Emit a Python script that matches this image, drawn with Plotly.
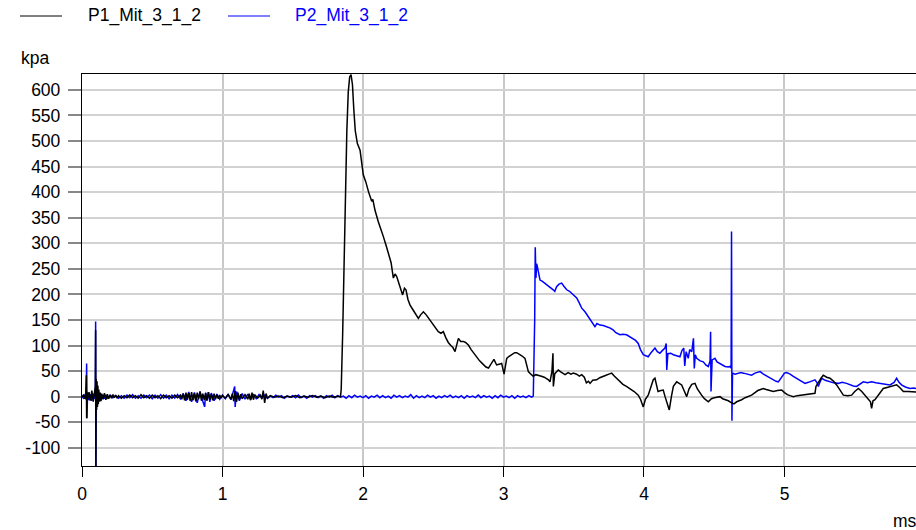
import plotly.graph_objects as go

# ---- data (time in ms, pressure in kPa) ----
p1_ms = [0, 0.01, 0.02, 0.027, 0.031, 0.033, 0.035, 0.04, 0.05, 0.06, 0.07, 0.08, 0.09, 0.095, 0.097, 0.099,
         0.101, 0.104, 0.107, 0.11, 0.113, 0.116, 0.12, 0.125, 0.13, 0.135, 0.14, 0.15, 0.16, 0.17, 0.18, 0.19,
         0.2, 0.21, 0.22, 0.23, 0.24, 0.25, 0.26, 0.28, 0.30, 0.32, 0.34, 0.36, 0.38, 0.40, 0.42, 0.44, 0.46,
         0.48, 0.50, 0.52, 0.54, 0.56, 0.58, 0.60, 0.62, 0.64, 0.66, 0.68, 0.70,
         0.71, 0.72, 0.73, 0.74, 0.75, 0.76, 0.77, 0.78, 0.79, 0.80, 0.81, 0.82, 0.83, 0.84, 0.85, 0.86, 0.87,
         0.88, 0.89, 0.90, 0.91, 0.92, 0.93, 0.94, 0.95, 0.96, 0.97, 0.98, 0.99, 1.00,
         1.02, 1.04, 1.06, 1.07, 1.08, 1.09, 1.10, 1.11, 1.12, 1.13, 1.14, 1.16, 1.18, 1.19, 1.20, 1.21, 1.22,
         1.23, 1.25, 1.27, 1.28, 1.29, 1.30, 1.31, 1.32, 1.34,
         1.37, 1.40, 1.43, 1.46, 1.49, 1.52, 1.55, 1.58, 1.61, 1.64, 1.67, 1.70, 1.73, 1.76, 1.79, 1.82, 1.84,
         1.845, 1.855, 1.865, 1.875, 1.885, 1.895, 1.905, 1.915, 1.925, 1.935, 1.945, 1.96, 1.979, 2.002, 2.02,
         2.04, 2.062, 2.07, 2.085, 2.109, 2.125, 2.145, 2.165, 2.188, 2.2, 2.216, 2.228, 2.24, 2.26, 2.282,
         2.295, 2.306, 2.32, 2.335, 2.36, 2.38, 2.394, 2.41, 2.43, 2.45, 2.477, 2.5, 2.52, 2.536, 2.555, 2.572,
         2.59, 2.607, 2.625, 2.64, 2.655, 2.665, 2.679, 2.695, 2.714, 2.73, 2.75, 2.77, 2.79, 2.809, 2.83,
         2.845, 2.857, 2.875, 2.893, 2.91, 2.932, 2.951, 2.97, 2.987, 3.004, 3.015, 3.023, 3.04, 3.06, 3.08,
         3.094, 3.11, 3.13, 3.153, 3.165, 3.177, 3.195, 3.212, 3.23, 3.248, 3.27, 3.29, 3.307, 3.32, 3.331,
         3.345, 3.352, 3.355, 3.365, 3.39, 3.41, 3.438, 3.46, 3.48, 3.497, 3.52, 3.54, 3.557, 3.575, 3.59,
         3.605, 3.616, 3.635, 3.663, 3.685, 3.71, 3.73, 3.75, 3.77, 3.79, 3.81, 3.829, 3.85, 3.875, 3.9, 3.93,
         3.959, 3.975, 3.995, 4.01, 4.03, 4.05, 4.066, 4.078, 4.09, 4.10, 4.12, 4.137, 4.15, 4.165, 4.18, 4.195,
         4.209, 4.233, 4.25, 4.268, 4.285, 4.304, 4.32, 4.34, 4.363, 4.38, 4.41, 4.43, 4.458, 4.48, 4.50, 4.541,
         4.56, 4.58, 4.6, 4.624, 4.64, 4.66, 4.68, 4.695, 4.72, 4.74, 4.766, 4.79, 4.81, 4.83, 4.849, 4.87, 4.9,
         4.92, 4.95, 4.98, 5.0, 5.02, 5.04, 5.063, 5.09, 5.12, 5.146, 5.17, 5.2, 5.217, 5.224, 5.24, 5.26, 5.276,
         5.30, 5.324, 5.35, 5.371, 5.39, 5.41, 5.419, 5.45, 5.478, 5.5, 5.526, 5.55, 5.57, 5.585, 5.6, 5.612,
         5.62, 5.63, 5.644, 5.67, 5.703, 5.73, 5.76, 5.798, 5.82, 5.846, 5.88, 5.917, 5.95]
p1_kpa = [0, 3, -4, 8, 42, -42, 10, -6, 9, -8, 12, -10, 6, 20, 130, -137,
          35, -26, 30, -20, 22, -15, 14, -10, 8, -9, 6, -5, 7, -6, 5, -4,
          3, -3, 4, -2, 3, -3, 2, -3, 2, -2, 3, -2, 2, -3, 4, -2, 2,
          -3, 3, -2, 2, -4, 3, -2, 2, -3, 3, -2, 3,
          -5, 6, -7, 8, -6, 7, -8, 9, -7, 6, -9, 8, -5, 10, -8, 6, -6,
          7, -8, 9, -6, 5, -7, 6, -5, 4, -4, 3, -3, 2,
          -3, 4, -5, 6, -9, 11, -10, 8, -6, 5, -4, 4, -5, 6, -7, 8, -6,
          4, -3, 3, -5, 12, -12, 6, -3, 2,
          -1, 1, -2, 1, -1, 2, -2, 1, -1, 2, -1, 1, -2, 1, -1, 1, 0,
          15, 120, 260, 400, 520, 595, 625, 630, 610, 560, 520, 495, 482, 434, 420,
          400, 382, 386, 365, 342, 330, 313, 295, 274, 262, 232, 240, 235, 218, 199,
          212, 209, 190, 179, 168, 158, 153, 160, 166, 160, 150, 140, 132, 127, 124, 127,
          115, 106, 100, 96, 88, 100, 114, 108, 108, 106, 101, 92, 84, 78, 70,
          66, 62, 58, 56, 63, 73, 62, 64, 65, 44, 62, 75, 79, 82, 86,
          86, 84, 80, 75, 60, 49, 44, 40, 43, 42, 40, 38, 36, 33, 29,
          50, 85, 20, 45, 52, 48, 43, 47, 44, 46, 44, 40, 43, 38, 27,
          30, 26, 32, 33, 37, 39, 42, 44, 46, 40, 34, 29, 24, 20, 16, 10,
          3, -5, -20, -5, 3, 18, 33, 36, 20, 10, 12, 13, 0, -15, -26, 0,
          20, 29, 26, 23, 12, 0, 15, 24, 26, 15, 3, -4, -10, -4, -2, 0,
          -4, -6, -8, -12, -14, -10, -8, -6, -2, 0, 3, 8, 12, 14, 16, 14, 12,
          10, 12, 13, 8, 4, 2, 0, 2, 3, 3, 5, 6, 6.5, 20, 28, 36, 42,
          38, 36, 30, 23, 14, 6, 3, 2, 3, 10, 16, 10, 4, 0, -6, -10,
          -23, -8, -6, 4, 16, 18, 20, 23, 18, 10, 10, 10, 9]

# P2: early noisy part
p2_ms_early = [0, 0.01, 0.02, 0.027, 0.031, 0.033, 0.035, 0.04, 0.05, 0.06, 0.07, 0.08, 0.09, 0.095, 0.097, 0.099,
               0.101, 0.104, 0.107, 0.11, 0.115, 0.12, 0.13, 0.14, 0.15, 0.16, 0.17, 0.18, 0.2, 0.22, 0.24, 0.26,
               0.28, 0.30, 0.32, 0.34, 0.36, 0.38, 0.40, 0.42, 0.44, 0.46, 0.48, 0.50, 0.52, 0.54, 0.56, 0.58, 0.60,
               0.62, 0.64, 0.66, 0.68, 0.70, 0.72, 0.74, 0.76, 0.78, 0.80, 0.82, 0.84, 0.86, 0.873, 0.88, 0.89, 0.90,
               0.91, 0.92, 0.94, 0.96, 0.98, 1.0, 1.02, 1.04, 1.06, 1.075, 1.087, 1.09, 1.10, 1.12, 1.14, 1.16, 1.18,
               1.20, 1.22, 1.24, 1.26, 1.28, 1.30, 1.32]
p2_kpa_early = [0, -3, 4, -5, 20, 65, -42, 8, -7, 5, -8, 6, -4, 10, 147, -137,
                20, -18, 15, -12, 10, -8, 6, -5, 4, -4, 3, -3, 3, -2, 2, -3,
                2, -3, 3, -2, 4, -3, 2, -3, 3, -2, 3, -4, 3, -3, 4, -3, 3,
                -4, 3, -3, 4, -4, 6, -8, 9, -10, 8, -12, 10, -9, -20, 8, -7, 9,
                -10, 7, -8, 5, -5, 3, -4, 5, -6, 8, 20, -20, 10, -8, 6, -5, 5,
                -6, 5, -4, 4, -3, 3, -3]
# P2: quiet baseline before the arrival
p2_ms_base = [1.34, 1.36, 1.38, 1.40, 1.42, 1.44, 1.46, 1.48, 1.50, 1.52,
              1.54, 1.56, 1.58, 1.60, 1.62, 1.64, 1.66, 1.68, 1.70, 1.72,
              1.74, 1.76, 1.78, 1.80, 1.82, 1.84, 1.86, 1.88, 1.90, 1.92,
              1.94, 1.96, 1.98, 2.00, 2.02, 2.04, 2.06, 2.08, 2.10, 2.12,
              2.14, 2.16, 2.18, 2.20, 2.22, 2.24, 2.26, 2.28, 2.30, 2.32,
              2.34, 2.36, 2.38, 2.40, 2.42, 2.44, 2.46, 2.48, 2.50, 2.52,
              2.54, 2.56, 2.58, 2.60, 2.62, 2.64, 2.66, 2.68, 2.70, 2.72,
              2.74, 2.76, 2.78, 2.80, 2.82, 2.84, 2.86, 2.88, 2.90, 2.92,
              2.94, 2.96, 2.98, 3.00, 3.02, 3.04, 3.06, 3.08, 3.10, 3.12,
              3.14, 3.16, 3.18, 3.20]
p2_kpa_base = [1, -2, 3, -1, 2, -3, 1, -1, 2, -2,
               3, -2, 1, -3, 2, -1, 2, -2, 1, -3,
               2, -1, 3, -2, 2, -1, 1, -3, 2, -2,
               3, -1, 1, -2, 2, -3, 1, -1, 3, -2,
               2, -2, 1, -3, 3, -1, 2, -2, 1, -1,
               4, -3, 2, -2, 1, -2, 3, -1, 2, -3,
               1, -2, 2, -1, 3, -2, 1, -2, 2, -3,
               2, -1, 1, -2, 3, -2, 2, -1, 1, -3,
               2, -2, 3, -1, 1, -2, 2, -3, 2, -1,
               1, -2, 2, -1]
# P2: arrival and decay
p2_ms_late = [3.212, 3.222, 3.226, 3.231, 3.236, 3.241, 3.25, 3.26, 3.275, 3.295, 3.31, 3.331, 3.354, 3.365,
              3.378, 3.395, 3.414, 3.43, 3.45, 3.47, 3.485, 3.50, 3.521, 3.54, 3.557, 3.58, 3.604, 3.625, 3.651,
              3.665, 3.687, 3.71, 3.734, 3.76, 3.782, 3.80, 3.829, 3.85, 3.876, 3.90, 3.924, 3.94, 3.959, 3.975,
              3.995, 4.01, 4.03, 4.05, 4.078, 4.095, 4.113, 4.13, 4.149, 4.158, 4.162, 4.17, 4.19, 4.209, 4.23,
              4.256, 4.27, 4.283, 4.29, 4.30, 4.315, 4.325, 4.34, 4.352, 4.358, 4.365, 4.375, 4.40, 4.422, 4.44,
              4.458, 4.47, 4.474, 4.477, 4.485, 4.505, 4.52, 4.541, 4.56, 4.577, 4.60, 4.612, 4.62, 4.623, 4.626,
              4.63, 4.648, 4.67, 4.69, 4.708, 4.73, 4.75, 4.766, 4.79, 4.81, 4.826, 4.85, 4.875, 4.897, 4.92, 4.94,
              4.956, 4.98, 5.0, 5.015, 5.04, 5.06, 5.087, 5.11, 5.13, 5.146, 5.17, 5.2, 5.217, 5.23, 5.241, 5.255,
              5.265, 5.29, 5.324, 5.35, 5.383, 5.41, 5.442, 5.47, 5.49, 5.513, 5.54, 5.561, 5.59, 5.62, 5.65, 5.68,
              5.71, 5.751, 5.78, 5.798, 5.815, 5.833, 5.86, 5.893, 5.92, 5.95]
p2_kpa_late = [1, 150, 292, 232, 260, 254, 238, 228, 226, 222, 218, 215, 209, 206,
               215, 220, 222, 216, 209, 206, 202, 198, 193, 183, 173, 166, 157, 148, 137,
               143, 140, 139, 137, 134, 130, 125, 121, 122, 121, 117, 114, 110, 104, 92,
               82, 80, 78, 86, 95, 88, 85, 90, 95, 104, 52, 84, 85, 82, 80,
               78, 90, 95, 60, 88, 75, 92, 88, 114, 55, 82, 75, 70, 68, 62,
               59, 70, 127, 10, 72, 75, 68, 65, 62, 59, 58, 59, 56, 323, -47,
               46, 44, 46, 47, 46, 44, 43, 42, 46, 48, 49, 44, 40, 36, 33, 30,
               29, 38, 46, 47, 44, 40, 36, 32, 28, 26, 28, 31, 33, 28, 20, 30,
               36, 32, 29, 27, 26, 28, 26, 23, 21, 20, 25, 29, 27, 29, 27, 26,
               24, 23, 28, 36, 28, 23, 19, 16, 17, 15]

p2_ms = p2_ms_early + p2_ms_base + p2_ms_late
p2_kpa = p2_kpa_early + p2_kpa_base + p2_kpa_late

y_ticks = [-100, -50, 0, 50, 100, 150, 200, 250, 300, 350, 400, 450, 500, 550, 600]
x_ticks = [0, 1, 2, 3, 4, 5]
series_names = ["P1_Mit_3_1_2", "P2_Mit_3_1_2"]
y_unit = "kpa"
x_unit = "ms"

FONT = "Liberation Sans, Arial, sans-serif"
FS = 17.5
W, H = 916, 530
L, R, T, B = 82, 0, 74, 64
PW, PH = W - L - R, H - T - B


def xp(px):
    return (px - L) / PW


def yp(py):
    return (H - B - py) / PH


fig = go.Figure()
fig.add_trace(go.Scatter(x=p2_ms, y=p2_kpa, mode="lines", name=series_names[1],
                         line=dict(color="#0000ff", width=1.5), showlegend=False))
fig.add_trace(go.Scatter(x=p1_ms, y=p1_kpa, mode="lines", name=series_names[0],
                         line=dict(color="#000000", width=1.5), showlegend=False))

# legend drawn as line samples + text
shapes = [
    dict(type="line", xref="paper", yref="paper", x0=xp(20), x1=xp(62), y0=yp(16), y1=yp(16),
         line=dict(color="#000000", width=1)),
    dict(type="line", xref="paper", yref="paper", x0=xp(228), x1=xp(270), y0=yp(16), y1=yp(16),
         line=dict(color="#0000ff", width=1)),
]
annotations = [
    dict(text=series_names[0], xref="paper", yref="paper", x=xp(86), y=yp(16), xanchor="left",
         yanchor="middle", showarrow=False, font=dict(family=FONT, size=FS, color="#000000")),
    dict(text=series_names[1], xref="paper", yref="paper", x=xp(293), y=yp(16), xanchor="left",
         yanchor="middle", showarrow=False, font=dict(family=FONT, size=FS, color="#0000ff")),
    dict(text=y_unit, xref="paper", yref="paper", x=xp(19), y=yp(58), xanchor="left",
         yanchor="middle", showarrow=False, font=dict(family=FONT, size=FS, color="#000000")),
    dict(text=x_unit, xref="paper", yref="paper", x=xp(891), y=yp(521), xanchor="left",
         yanchor="middle", showarrow=False, font=dict(family=FONT, size=FS, color="#000000")),
]

fig.update_layout(
    width=W, height=H,
    margin=dict(l=L, r=R, t=T, b=B, pad=0),
    paper_bgcolor="white", plot_bgcolor="white",
    font=dict(family=FONT, size=FS, color="#000000"),
    shapes=shapes, annotations=annotations,
    showlegend=False,
    xaxis=dict(range=[0, 5.936], tickvals=x_ticks, ticktext=[str(v) for v in x_ticks],
               showgrid=True, gridcolor="#c8c8c8", gridwidth=1.5, zeroline=False,
               showline=True, linecolor="#000000", linewidth=1.3, mirror=True,
               ticks="outside", ticklen=10, tickwidth=1.3, tickcolor="#000000",
               ticklabelstandoff=2),
    yaxis=dict(range=[-135.6, 631], tickvals=y_ticks, ticktext=[str(v) for v in y_ticks],
               showgrid=True, gridcolor="#d2d2d2", gridwidth=2, zeroline=False,
               showline=True, linecolor="#000000", linewidth=1.3,
               ticks="outside", ticklen=13, tickwidth=2, tickcolor="#888888",
               ticklabelstandoff=4),
)

fig.write_html("out.html", config={"displayModeBar": False},
               post_script="document.body.style.margin='0px';")
